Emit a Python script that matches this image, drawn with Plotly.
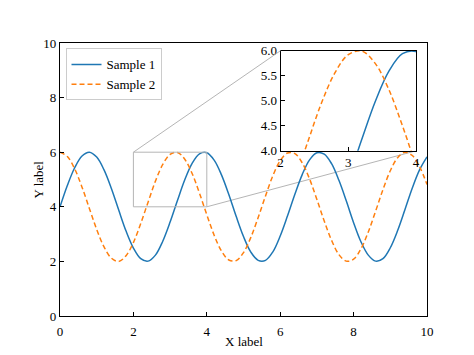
import plotly.graph_objects as go

x_vals = [round(i * 0.2, 1) for i in range(51)]
sample1 = [4.00, 4.78, 5.43, 5.86, 6.00, 5.82, 5.35, 4.67, 3.88, 3.11,
           2.49, 2.10, 2.01, 2.23, 2.74, 3.44, 4.23, 4.99, 5.59, 5.94,
           5.98, 5.71, 5.17, 4.45, 3.65, 2.91, 2.34, 2.04, 2.04, 2.35,
           2.93, 3.67, 4.46, 5.18, 5.72, 5.98, 5.93, 5.58, 4.97, 4.22,
           3.42, 2.72, 2.23, 2.01, 2.10, 2.50, 3.13, 3.90, 4.69, 5.36,
           5.83]
sample2 = [6.00, 5.84, 5.39, 4.72, 3.94, 3.17, 2.53, 2.12, 2.00, 2.21,
           2.69, 3.39, 4.17, 4.94, 5.55, 5.92, 5.99, 5.74, 5.22, 4.50,
           3.71, 2.96, 2.38, 2.05, 2.03, 2.32, 2.88, 3.61, 4.40, 5.14,
           5.69, 5.97, 5.95, 5.61, 5.02, 4.27, 3.48, 2.77, 2.25, 2.01,
           2.08, 2.46, 3.08, 3.84, 4.63, 5.32, 5.80, 6.00, 5.88, 5.46,
           4.82]

main_xrange = [0, 10]
main_yrange = [0, 10]
main_xticks = [0, 2, 4, 6, 8, 10]
main_yticks = [0, 2, 4, 6, 8, 10]
inset_xrange = [2, 4]
inset_yrange = [4, 6]
inset_xticks = [2, 3, 4]
inset_yticks = [4.0, 4.5, 5.0, 5.5, 6.0]
x_title = "X label"
y_title = "Y label"

BLUE = "#1f77b4"
ORANGE = "#ff7f0e"
FONT = "Times New Roman, Liberation Serif, Tinos, serif"
DASH = "5px,3px"
LW = 1.5

inset_xdom = [0.601, 0.970]
inset_ydom = [0.605, 0.972]

fig = go.Figure()
fig.add_trace(go.Scatter(x=x_vals, y=sample1, mode="lines", name="Sample 1",
                         line=dict(color=BLUE, width=LW, shape="spline")))
fig.add_trace(go.Scatter(x=x_vals, y=sample2, mode="lines", name="Sample 2",
                         line=dict(color=ORANGE, width=LW, dash=DASH, shape="spline")))
fig.add_trace(go.Scatter(x=x_vals, y=sample1, mode="lines", showlegend=False,
                         xaxis="x2", yaxis="y2",
                         line=dict(color=BLUE, width=LW, shape="spline")))
fig.add_trace(go.Scatter(x=x_vals, y=sample2, mode="lines", showlegend=False,
                         xaxis="x2", yaxis="y2",
                         line=dict(color=ORANGE, width=LW, dash=DASH, shape="spline")))

def to_paper(v, rng):
    return (v - rng[0]) / (rng[1] - rng[0])

shapes = [
    dict(type="rect", xref="x", yref="y",
         x0=inset_xrange[0], x1=inset_xrange[1], y0=inset_yrange[0], y1=inset_yrange[1],
         line=dict(color="#b5b5b5", width=1), layer="above"),
    dict(type="line", xref="paper", yref="paper",
         x0=to_paper(inset_xrange[0], main_xrange), y0=to_paper(inset_yrange[1], main_yrange),
         x1=inset_xdom[0], y1=inset_ydom[1],
         line=dict(color="#b5b5b5", width=1), layer="above"),
    dict(type="line", xref="paper", yref="paper",
         x0=to_paper(inset_xrange[1], main_xrange), y0=to_paper(inset_yrange[0], main_yrange),
         x1=inset_xdom[1], y1=inset_ydom[0],
         line=dict(color="#b5b5b5", width=1), layer="below"),
]

axis_common = dict(showline=True, mirror=True, linecolor="black", ticks="inside",
                   ticklen=4, tickcolor="black", showgrid=False, zeroline=False,
                   tickfont=dict(family=FONT, size=13, color="black"))

annotations = [
    dict(text=x_title, xref="paper", yref="paper", x=0.5, y=0, yshift=-25,
         xanchor="center", yanchor="middle", showarrow=False,
         font=dict(family=FONT, size=13, color="black")),
    dict(text=y_title, xref="paper", yref="paper", x=0, y=0.5, xshift=-22,
         xanchor="center", yanchor="middle", showarrow=False, textangle=-90,
         font=dict(family=FONT, size=13, color="black")),
]

fig.update_layout(
    width=474, height=355,
    margin=dict(l=60, r=47, t=43, b=39),
    paper_bgcolor="white", plot_bgcolor="white",
    font=dict(family=FONT, size=13, color="black"),
    xaxis=dict(domain=[0, 1], range=main_xrange, tickvals=main_xticks, linewidth=1.3,
               ticklabelstandoff=3, **axis_common),
    yaxis=dict(domain=[0, 1], range=main_yrange, tickvals=main_yticks, linewidth=1.3,
               **axis_common),
    xaxis2=dict(domain=inset_xdom, range=inset_xrange, tickvals=inset_xticks, anchor="y2",
                linewidth=1, **axis_common),
    yaxis2=dict(domain=inset_ydom, range=inset_yrange, tickvals=inset_yticks, anchor="x2",
                tickformat=".1f", linewidth=1, **axis_common),
    legend=dict(x=0.015, y=0.98, xanchor="left", yanchor="top",
                bgcolor="rgba(255,255,255,0.8)", bordercolor="#cccccc", borderwidth=1,
                font=dict(family=FONT, size=13, color="black"),
                itemwidth=30, tracegroupgap=0),
    shapes=shapes,
    annotations=annotations,
)

fig.write_html("out.html")
